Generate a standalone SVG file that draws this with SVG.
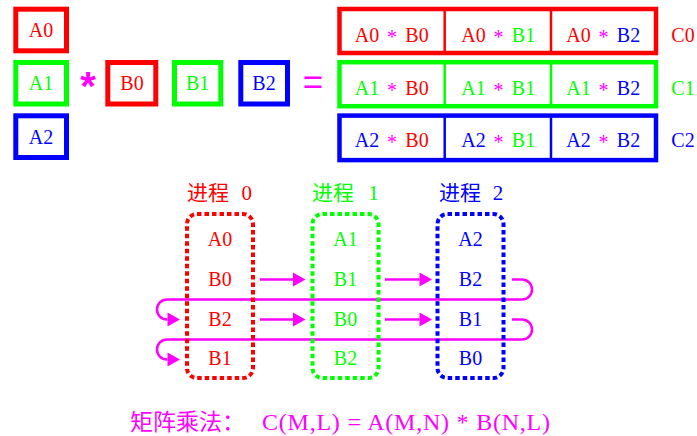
<svg xmlns="http://www.w3.org/2000/svg" width="697" height="436" viewBox="0 0 697 436">
<defs>
<style>
.t{font-family:"Liberation Serif","Noto Sans CJK SC",serif;font-size:20px;text-anchor:middle}
.cjk{font-family:"Noto Sans CJK SC",sans-serif;font-size:21px}
.r{fill:#FF0000}.g{fill:#00FF00}.b{fill:#0000FF}.m{fill:#FF00FF}
.box{fill:#FFFFFF;stroke-width:5}
.row{fill:#FFFFFF;stroke-width:4.5}
.div{stroke-width:2.5}
.proc{fill:none;stroke-width:4;stroke-dasharray:4.5 3}
.sr{stroke:#FF0000}.sg{stroke:#00FF00}.sb{stroke:#0000FF}
.conn{fill:none;stroke:#FF00FF;stroke-width:2.5}
</style>
<marker id="ah" markerUnits="userSpaceOnUse" markerWidth="13" markerHeight="14" refX="0" refY="7" orient="auto" overflow="visible">
<path d="M0,0 L12.5,7 L0,14 Z" fill="#FF00FF"/>
</marker>
</defs>
<rect width="697" height="436" fill="#FFFFFF"/>

<g id="A0"><rect class="box sr" x="15.8" y="9.2" width="50.7" height="41.6"/><text class="t r" x="41" y="37">A0</text></g>
<g id="A1"><rect class="box sg" x="15.8" y="62.5" width="50.7" height="41.5"/><text class="t g" x="41" y="90">A1</text></g>
<g id="A2"><rect class="box sb" x="15.8" y="115.8" width="50.7" height="41.7"/><text class="t b" x="41" y="143.5">A2</text></g>
<g id="times"><text x="88" y="100" style="font-family:'Liberation Sans',sans-serif;font-weight:bold;font-size:40px;text-anchor:middle" class="m">*</text></g>
<g id="B0"><rect class="box sr" x="107.8" y="62.5" width="48" height="41.5"/><text class="t r" x="132" y="90">B0</text></g>
<g id="B1"><rect class="box sg" x="174.5" y="62.5" width="46.3" height="41.5"/><text class="t g" x="197.7" y="90">B1</text></g>
<g id="B2"><rect class="box sb" x="240.8" y="62.5" width="46.7" height="41.5"/><text class="t b" x="264" y="90">B2</text></g>
<g id="equals"><text x="313" y="93.5" style="font-family:'Liberation Sans',sans-serif;font-size:35px;text-anchor:middle" class="m">=</text></g>

<g id="C0">
<rect class="row sr" x="339.5" y="9" width="316.5" height="44"/>
<line class="div sr" x1="444.7" y1="9" x2="444.7" y2="53"/><line class="div sr" x1="551" y1="9" x2="551" y2="53"/>
<text class="t r" x="367" y="41.5">A0</text><text class="t m" x="392" y="43.5">*</text><text class="t r" x="417" y="41.5">B0</text>
<text class="t r" x="473.5" y="41.5">A0</text><text class="t m" x="498.5" y="43.5">*</text><text class="t g" x="523.5" y="41.5">B1</text>
<text class="t r" x="578.5" y="41.5">A0</text><text class="t m" x="603.5" y="43.5">*</text><text class="t b" x="628.5" y="41.5">B2</text>
<text class="t r" x="683" y="41.5">C0</text>
</g>
<g id="C1">
<rect class="row sg" x="339.5" y="62.2" width="316.5" height="44"/>
<line class="div sg" x1="444.7" y1="62.2" x2="444.7" y2="106.2"/><line class="div sg" x1="551" y1="62.2" x2="551" y2="106.2"/>
<text class="t g" x="367" y="95">A1</text><text class="t m" x="392" y="97">*</text><text class="t r" x="417" y="95">B0</text>
<text class="t g" x="473.5" y="95">A1</text><text class="t m" x="498.5" y="97">*</text><text class="t g" x="523.5" y="95">B1</text>
<text class="t g" x="578.5" y="95">A1</text><text class="t m" x="603.5" y="97">*</text><text class="t b" x="628.5" y="95">B2</text>
<text class="t g" x="683" y="95">C1</text>
</g>
<g id="C2">
<rect class="row sb" x="339.5" y="115.6" width="316.5" height="44.5"/>
<line class="div sb" x1="444.7" y1="115.6" x2="444.7" y2="160.1"/><line class="div sb" x1="551" y1="115.6" x2="551" y2="160.1"/>
<text class="t b" x="367" y="147">A2</text><text class="t m" x="392" y="149">*</text><text class="t r" x="417" y="147">B0</text>
<text class="t b" x="473.5" y="147">A2</text><text class="t m" x="498.5" y="149">*</text><text class="t g" x="523.5" y="147">B1</text>
<text class="t b" x="578.5" y="147">A2</text><text class="t m" x="603.5" y="149">*</text><text class="t b" x="628.5" y="147">B2</text>
<text class="t b" x="683" y="147">C2</text>
</g>

<g id="connectors">
<path class="conn" d="M260,279.5 H293" marker-end="url(#ah)"/>
<path class="conn" d="M385,279.5 H419.5" marker-end="url(#ah)"/>
<path class="conn" d="M260,319.5 H293" marker-end="url(#ah)"/>
<path class="conn" d="M385,319.5 H419.5" marker-end="url(#ah)"/>
<path class="conn" d="M512,279.5 H522 A10,10 0 0 1 522,299.5 H167 A10,10 0 0 0 167,319.5 H167.5" marker-end="url(#ah)"/>
<path class="conn" d="M512,319.5 H522 A10,10 0 0 1 522,339.5 H167 A10,10 0 0 0 167,359.5 H167.5" marker-end="url(#ah)"/>
</g>

<g id="P0">
<text class="cjk r" x="187" y="200">进程</text><text class="t r" x="246.7" y="200" style="font-size:21px">0</text>
<rect class="proc sr" x="187" y="214" width="66" height="164" rx="10"/>
<text class="t r" x="220" y="246">A0</text>
<text class="t r" x="220" y="286">B0</text>
<text class="t r" x="220" y="325.5">B2</text>
<text class="t r" x="220" y="365">B1</text>
</g>
<g id="P1">
<text class="cjk g" x="312" y="200">进程</text><text class="t g" x="373.5" y="200" style="font-size:21px">1</text>
<rect class="proc sg" x="312.5" y="214" width="66" height="164" rx="10"/>
<text class="t g" x="345.5" y="246">A1</text>
<text class="t g" x="345.5" y="286">B1</text>
<text class="t g" x="345.5" y="325.5">B0</text>
<text class="t g" x="345.5" y="365">B2</text>
</g>
<g id="P2">
<text class="cjk b" x="439" y="200">进程</text><text class="t b" x="498" y="200" style="font-size:21px">2</text>
<rect class="proc sb" x="437.5" y="214" width="66" height="164" rx="10"/>
<text class="t b" x="470.5" y="246">A2</text>
<text class="t b" x="470.5" y="286">B2</text>
<text class="t b" x="470.5" y="325.5">B1</text>
<text class="t b" x="470.5" y="365">B0</text>
</g>

<g id="formula">
<text class="cjk m" x="130" y="430" style="font-size:23px">矩阵乘法：</text>
<text class="m" x="262" y="430" textLength="288" lengthAdjust="spacing" style="font-family:'Liberation Serif',serif;font-size:24px">C(M,L) = A(M,N) * B(N,L)</text>
</g>
</svg>
